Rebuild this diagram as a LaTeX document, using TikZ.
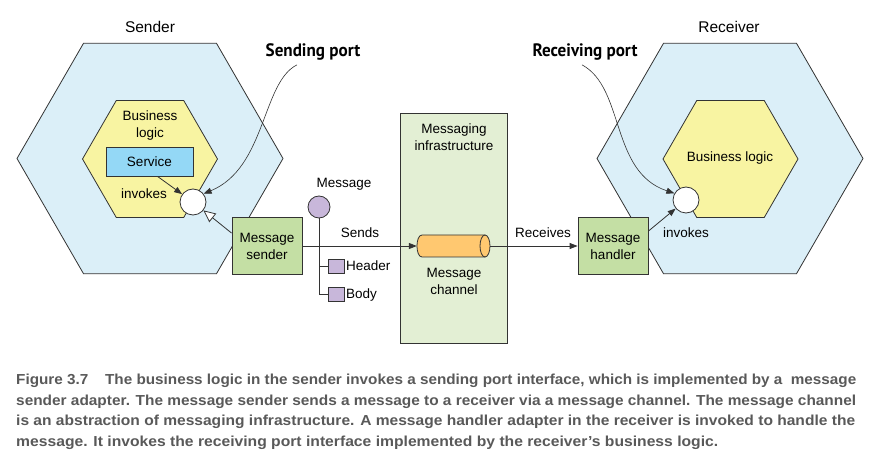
\documentclass[tikz,border=0pt]{standalone}
\usepackage{fontspec}
\usepackage{graphicx}
\setmainfont{Liberation Sans}
\newfontfamily\portfont[FakeStretch=0.95]{PT Sans}
\usetikzlibrary{shapes.geometric,arrows.meta}
\definecolor{lc}{HTML}{333333}
\definecolor{outerblue}{HTML}{DBEFF8}
\definecolor{innery}{HTML}{F8F4A2}
\definecolor{svcblue}{HTML}{94D8F6}
\definecolor{boxgreen}{HTML}{C4DFA4}
\definecolor{infragreen}{HTML}{E3EFD4}
\definecolor{chanorange}{HTML}{FFC870}
\definecolor{msgpurple}{HTML}{C8B7DA}
\definecolor{capgray}{HTML}{595959}
\newsavebox\capbox
\newcommand\capline[2]{\sbox\capbox{#2}\resizebox{#1}{\ht\capbox}{\usebox\capbox}}
\begin{document}
\begin{tikzpicture}[x=1pt,y=-1pt,
  every node/.style={font=\fontsize{13.5}{17}\selectfont, text=black},
  hexo/.style={regular polygon, regular polygon sides=6, draw=lc, line width=0.8pt, inner sep=0pt},
  outerhex/.style={hexo, fill=outerblue, minimum size=266pt},
  innerhex/.style={hexo, fill=innery, minimum size=135pt},
  adapter/.style={rectangle, draw=lc, line width=0.8pt, fill=boxgreen, minimum width=70pt, minimum height=57pt, align=center, inner sep=0pt},
  portc/.style={circle, draw=lc, line width=0.8pt, fill=white, minimum size=26pt, inner sep=0pt},
  title/.style={font=\fontsize{15.5}{18}\selectfont},
  portlab/.style={font=\portfont\bfseries\fontsize{18}{20}\selectfont},
  arr/.style={draw=lc, line width=0.8pt, -{Triangle[length=8pt,width=6pt]}},
  thin/.style={draw=lc, line width=0.8pt},
  partbox/.style={rectangle, draw=lc, line width=0.8pt, fill=msgpurple, minimum width=16pt, minimum height=14pt, inner sep=0pt},
  capnode/.style={anchor=base west, inner sep=0pt, text=capgray, font=\bfseries\fontsize{14.5}{17}\selectfont}
]
\useasboundingbox (0,0) rectangle (883,462);

% Sender
\node[title] (sendertitle) at (150,27) {Sender};
\node[outerhex] (sendhex) at (150,158.5) {};
\node[innerhex] (sendbl) at (150,159) {};
\node[align=center] (sendbltext) at (150,126) {Business\\logic};
\node[rectangle, draw=lc, line width=0.8pt, fill=svcblue, minimum width=87pt, minimum height=29pt, inner sep=0pt] (svc) at (149.5,161.5) {Service};
\node (invl) at (144,194) {invokes};
\node[portc] (sport) at (193,202) {};
\node[adapter] (ms) at (267,246) {Message\\sender};

% Receiver
\node[title] (receivertitle) at (729,27) {Receiver};
\node[outerhex] (rechex) at (730,158.5) {};
\node[innerhex] (recbl) at (730.5,159) {};
\node (recbltext) at (730,158) {Business logic};
\node[portc] (rport) at (686,200) {};
\node[adapter] (mh) at (613,246) {Message\\handler};
\node (invr) at (686,233) {invokes};

% Infrastructure
\node[rectangle, draw=lc, line width=0.8pt, fill=infragreen, minimum width=107pt, minimum height=230pt, inner sep=0pt] (infra) at (453.5,228) {};
\node[align=center] (infratext) at (454,137.5) {Messaging\\infrastructure};
\node[minimum width=73pt, minimum height=22pt, inner sep=0pt] (chan) at (453.5,246) {};
\path[fill=chanorange, draw=lc, line width=0.8pt] (422,235) -- (485,235) -- (485,257) -- (422,257) .. controls (415.3,257) and (415.3,235) .. (422,235) -- cycle;
\draw[fill=chanorange, draw=lc, line width=0.8pt] (485,246) ellipse [x radius=5, y radius=11];
\node[align=center] (chantext) at (454,281) {Message\\channel};

% Message
\node[circle, draw=lc, line width=0.8pt, fill=msgpurple, minimum size=22pt, inner sep=0pt] (msgc) at (319,207) {};
\node (msglab) at (344,184) {Message};
\node[partbox] (hdr) at (336,266) {};
\node[partbox] (body) at (336,294) {};
\node[anchor=west, inner sep=0pt] (hdrlab) at (346,266) {Header};
\node[anchor=west, inner sep=0pt] (bodylab) at (346,295) {Body};
\coordinate (b1) at (319,266);
\coordinate (b2) at (319,294);
\draw[thin] (msgc.south) -- (b2) -- (body.west);
\draw[thin] (b1) -- (hdr.west);

% Flows
\draw[arr] (ms.east) -- (ms.east -| chan.west);
\node (sends) at (360,233) {Sends};
\draw[arr] (chan.east -| 490,0) -- (mh.west);
\node (receives) at (543,233) {Receives};

% Invokes arrows
\draw[arr] ([xshift=8pt]svc.south) -- (sport);
\draw[draw=lc, line width=0.8pt, -{Triangle[open, fill=white, length=12pt, width=11pt]}] ([yshift=-16pt]ms.north west) -- (sport);
\draw[arr] ([yshift=-14pt]mh.north east) -- (rport);

% Port labels
\node[portlab] (splab) at (313,52) {Sending port};
\node[portlab] (rplab) at (585,52) {Receiving port};
\draw[draw=lc, line width=0.6pt, -{Triangle[length=8pt,width=6pt]}] ([xshift=-16pt,yshift=-1pt]splab.south) .. controls (262,82) and (266,168) .. (sport.38);
\draw[draw=lc, line width=0.6pt, -{Triangle[length=8pt,width=6pt]}] ([xshift=-3pt,yshift=-1pt]rplab.south) .. controls (625,88) and (610,172) .. (rport.150);

% Caption
\node[capnode] (cap1) at (16,384) {\capline{840pt}{Figure 3.7\hspace{1.1em}The business logic in the sender invokes a sending port interface, which is implemented by a\ \ message}};
\node[capnode] (cap2) at (16,405) {\capline{840pt}{sender adapter. The message sender sends a message to a receiver via a message channel. The message channel}};
\node[capnode] (cap3) at (16,425.5) {\capline{839pt}{is an abstraction of messaging infrastructure. A message handler adapter in the receiver is invoked to handle the}};
\node[capnode] (cap4) at (16,446) {\capline{702pt}{message. It invokes the receiving port interface implemented by the receiver’s business logic.}};
\end{tikzpicture}
\end{document}
